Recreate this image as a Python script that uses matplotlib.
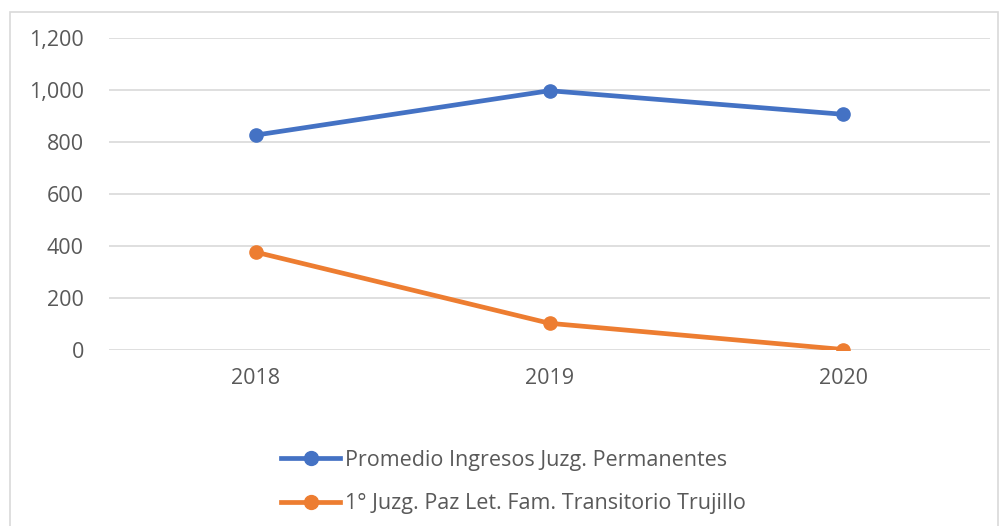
import matplotlib.pyplot as plt
from matplotlib.patches import Rectangle
from matplotlib.lines import Line2D
from matplotlib.ticker import FuncFormatter

years = ["2018", "2019", "2020"]
promedio = [826, 997, 906]
transitorio = [375, 101, 0]
labels = ["Promedio Ingresos Juzg. Permanentes",
          "1° Juzg. Paz Let. Fam. Transitorio Trujillo"]

blue = "#4472c4"
orange = "#ed7d31"
grey = "#595959"

plt.rcParams["font.family"] = ["Open Sans", "DejaVu Sans"]

fig = plt.figure(figsize=(10.04, 5.26), dpi=100)
ax = fig.add_axes([109 / 1004, 176.5 / 526, 881 / 1004, 311.5 / 526])

# outer chart border
fig.patches.append(Rectangle((10 / 1004, -0.01), 988 / 1004, (526 - 12) / 526 + 0.01,
                             transform=fig.transFigure, fill=False,
                             edgecolor="#d9d9d9", linewidth=1.2))

x = range(len(years))
ax.plot(x, promedio, color=blue, linewidth=3.4, marker="o", markersize=9.5)
ax.plot(x, transitorio, color=orange, linewidth=3.4, marker="o", markersize=9.5)

ax.set_xlim(-0.5, 2.5)
ax.set_ylim(0, 1200)
ax.set_yticks(range(0, 1201, 200))
ax.yaxis.set_major_formatter(FuncFormatter(lambda v, p: f"{int(v):,}"))
ax.set_xticks(list(x))
ax.set_xticklabels(years)
ax.grid(axis="y", color="#d9d9d9", linewidth=1.2)
ax.set_axisbelow(True)
for s in ax.spines.values():
    s.set_visible(False)
ax.tick_params(length=0, labelsize=15.5, colors=grey)
ax.tick_params(axis="x", pad=13)
ax.tick_params(axis="y", pad=18)

handles = [Line2D([], [], color=blue, linewidth=3.4, marker="o", markersize=10),
           Line2D([], [], color=orange, linewidth=3.4, marker="o", markersize=10)]
leg = fig.legend(handles, labels, loc="upper left", bbox_to_anchor=(281 / 1004, 1 - 450 / 526),
                 frameon=False, ncol=1, fontsize=15.5, handlelength=2.75, handletextpad=0.23,
                 labelspacing=1.03, labelcolor=grey, borderpad=0, borderaxespad=0)

fig.savefig("out.png", dpi=100)
